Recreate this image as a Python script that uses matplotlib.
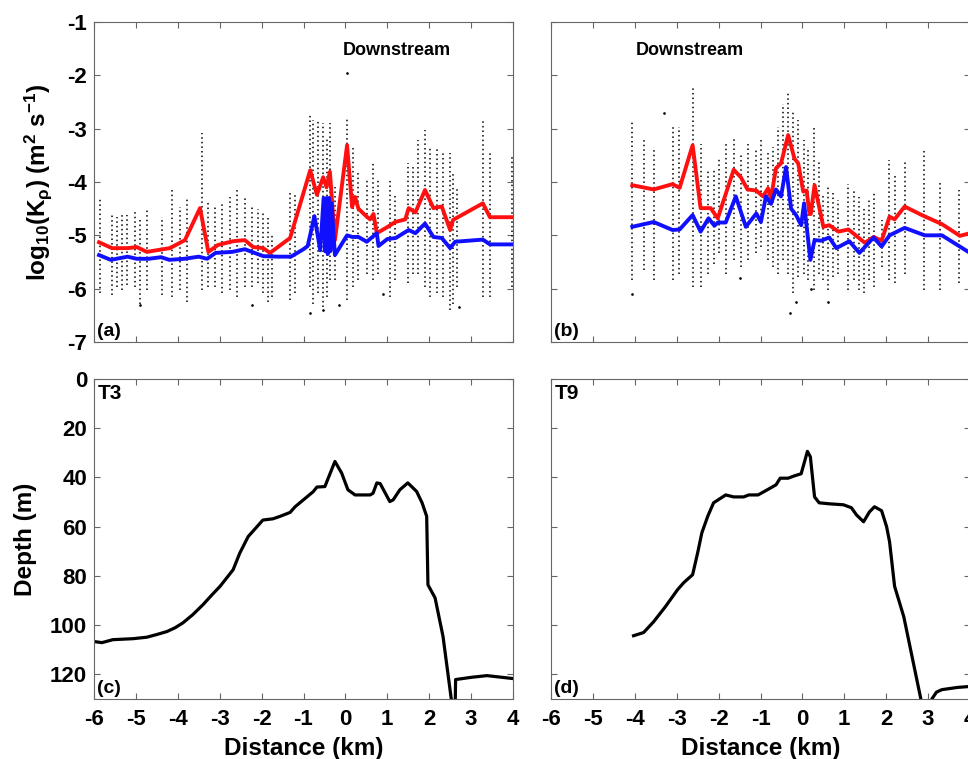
import matplotlib
matplotlib.use('Agg')
import matplotlib.pyplot as plt

plt.rcParams['font.family'] = ['Liberation Sans', 'DejaVu Sans']
plt.rcParams['font.weight'] = 'bold'
plt.rcParams['axes.labelweight'] = 'bold'
plt.rcParams['axes.unicode_minus'] = False
plt.rcParams['mathtext.fontset'] = 'custom'
plt.rcParams['mathtext.rm'] = 'Liberation Sans:bold'
plt.rcParams['mathtext.it'] = 'Liberation Sans:bold'
plt.rcParams['mathtext.bf'] = 'Liberation Sans:bold'

# ---- panel (a): T3 mixing, red = mean, blue = median
a_red_x = [-5.88, -5.57, -5.2, -4.98, -4.74, -4.19, -3.83, -3.47, -3.27, -3.04, -2.68, -2.40, -2.20, -1.96,
           -1.80, -1.32, -0.84, -0.68, -0.53, -0.45, -0.37, -0.25, 0.04, 0.16, 0.23, 0.31, 0.51, 0.59, 0.67,
           0.75, 0.99, 1.19, 1.43, 1.51, 1.67, 1.90, 2.10, 2.30, 2.50, 2.57, 3.28, 3.45, 4.0]
a_red_y = [-5.13, -5.24, -5.24, -5.22, -5.31, -5.24, -5.09, -4.49, -5.31, -5.18, -5.11, -5.09, -5.22, -5.24,
           -5.33, -5.05, -3.78, -4.24, -3.91, -4.1, -3.81, -5.09, -3.31, -4.47, -4.28, -4.5, -4.65, -4.7, -4.6,
           -4.96, -4.85, -4.75, -4.70, -4.49, -4.57, -4.15, -4.49, -4.46, -4.90, -4.71, -4.40, -4.66, -4.66]
a_blue_x = [-5.88, -5.6, -5.2, -4.98, -4.7, -4.4, -4.2, -3.85, -3.5, -3.3, -3.1, -2.7, -2.4, -2.2, -1.96,
            -1.6, -1.3, -1.0, -0.9, -0.74, -0.6, -0.52, -0.48, -0.45, -0.42, -0.39, -0.36, -0.33, -0.25,
            0.04, 0.16, 0.31, 0.51, 0.75, 0.79, 1.0, 1.2, 1.51, 1.67, 1.9, 2.1, 2.3, 2.5, 2.62, 3.28, 3.45, 4.0]
a_blue_y = [-5.37, -5.46, -5.40, -5.44, -5.44, -5.41, -5.46, -5.44, -5.40, -5.44, -5.33, -5.31, -5.26, -5.32,
            -5.39, -5.40, -5.40, -5.26, -5.2, -4.64, -5.28, -4.3, -5.3, -4.3, -5.35, -4.3, -5.3, -4.4, -5.37,
            -5.0, -5.03, -5.03, -5.12, -4.96, -5.2, -5.07, -5.05, -4.9, -4.96, -4.78, -5.03, -5.05, -5.24,
            -5.12, -5.08, -5.17, -5.17]

# profile stations (a): x and vertical extent of the individual estimates
a_sta = [-5.86, -5.57, -5.45, -5.33, -5.21, -5.02, -4.90, -4.74, -4.38, -4.14, -3.95, -3.78, -3.42, -3.27,
         -3.11, -2.94, -2.75, -2.59, -2.40, -2.23, -2.09, -1.97, -1.85, -1.75, -1.32, -1.20, -0.84, -0.77,
         -0.65, -0.53, -0.44, -0.37, -0.25, 0.04, 0.18, 0.30, 0.52, 0.66, 0.78, 1.06, 1.18, 1.49, 1.61,
         1.73, 1.90, 2.02, 2.19, 2.33, 2.50, 2.57, 2.66, 3.28, 3.45, 3.98]
a_hi = [-4.28, -4.59, -4.65, -4.59, -4.62, -4.53, -4.71, -4.53, -4.65, -4.15, -4.46, -4.28, -3.09, -4.40,
        -4.43, -4.40, -4.28, -4.15, -4.28, -4.46, -4.50, -4.59, -4.62, -4.97, -4.21, -4.21, -2.71, -2.84,
        -2.84, -2.90, -3.15, -2.90, -4.09, -2.78, -3.34, -3.84, -3.96, -3.65, -3.96, -3.96, -4.21, -3.65,
        -3.71, -3.21, -3.03, -3.34, -3.34, -3.46, -3.46, -3.84, -4.09, -2.84, -3.46, -3.53]
a_lo = [-6.09, -6.12, -5.97, -6.03, -5.93, -5.97, -6.28, -6.03, -6.12, -6.15, -6.03, -6.25, -6.03, -5.97,
        -5.97, -6.09, -6.03, -6.15, -5.97, -5.97, -5.90, -6.09, -6.25, -6.15, -6.22, -6.09, -5.96, -6.28,
        -6.09, -6.34, -6.15, -5.84, -5.84, -6.22, -5.96, -5.84, -5.72, -5.84, -5.72, -6.15, -5.84, -5.90,
        -5.72, -5.72, -5.96, -6.15, -6.09, -6.15, -6.40, -6.28, -5.96, -6.15, -6.15, -5.96]
a_out_x = [0.04, -0.84, -0.53, -0.15, -2.23, -4.9, 0.9, 2.7]
a_out_y = [-1.96, -6.45, -6.4, -6.3, -6.3, -6.3, -6.1, -6.35]

# ---- panel (b): T9 mixing
b_red_x = [-4.06, -3.55, -3.10, -2.93, -2.62, -2.43, -2.19, -2.02, -1.64, -1.47, -1.31, -1.1, -0.94, -0.82,
           -0.75, -0.63, -0.51, -0.34, -0.19, -0.1, 0.02, 0.1, 0.17, 0.2, 0.29, 0.5, 0.64, 0.86, 1.1, 1.49,
           1.7, 1.89, 2.08, 2.2, 2.44, 2.85, 3.33, 3.76, 4.0]
b_red_y = [-4.06, -4.14, -4.04, -4.11, -3.31, -4.49, -4.49, -4.68, -3.77, -3.91, -4.14, -4.16, -4.27, -4.12,
           -4.3, -3.74, -3.65, -3.12, -3.56, -3.65, -4.18, -4.16, -4.6, -4.6, -4.06, -4.84, -4.81, -4.93,
           -4.89, -5.14, -5.03, -5.1, -4.65, -4.7, -4.46, -4.62, -4.79, -5.01, -4.96]
b_blue_x = [-4.06, -3.55, -3.10, -2.93, -2.62, -2.43, -2.24, -2.1, -2.02, -1.83, -1.59, -1.35, -1.1, -0.99,
            -0.87, -0.75, -0.63, -0.51, -0.39, -0.27, -0.15, -0.03, 0.04, 0.19, 0.29, 0.45, 0.64, 0.81, 1.12,
            1.36, 1.7, 1.89, 2.08, 2.44, 2.92, 3.33, 4.0]
b_blue_y = [-4.84, -4.75, -4.9, -4.89, -4.62, -4.93, -4.68, -4.82, -4.76, -4.76, -4.27, -4.84, -4.59, -4.75,
            -4.27, -4.41, -4.14, -4.27, -3.72, -4.5, -4.62, -4.81, -4.4, -5.46, -5.09, -5.1, -5.04, -5.24,
            -5.11, -5.33, -5.04, -5.21, -5.0, -4.86, -5.0, -5.0, -5.33]

b_sta = [-4.06, -3.79, -3.55, -3.10, -2.95, -2.62, -2.43, -2.26, -2.12, -2.00, -1.83, -1.64, -1.47, -1.30,
         -1.11, -0.99, -0.82, -0.70, -0.58, -0.46, -0.34, -0.22, -0.10, 0.04, 0.14, 0.28, 0.40, 0.50, 0.62,
         0.74, 0.86, 1.10, 1.22, 1.34, 1.46, 1.58, 1.70, 1.89, 2.06, 2.20, 2.44, 2.90, 3.28, 3.74, 3.98]
b_hi = [-2.84, -3.21, -3.34, -2.96, -2.96, -2.24, -3.28, -3.78, -3.78, -3.53, -3.28, -3.15, -3.46, -3.28,
        -3.40, -3.21, -3.46, -3.34, -2.96, -2.53, -2.34, -2.65, -2.84, -3.21, -3.34, -2.96, -3.59, -4.21,
        -4.09, -4.21, -4.34, -4.03, -4.15, -4.28, -4.46, -4.34, -4.21, -4.71, -3.59, -3.84, -3.59, -3.40,
        -3.96, -4.15, -3.96]
b_lo = [-5.84, -5.65, -5.84, -5.84, -5.72, -5.97, -5.97, -5.72, -5.53, -5.34, -5.72, -5.47, -5.59, -5.47,
        -5.34, -5.22, -5.47, -5.59, -5.72, -5.47, -5.72, -6.09, -5.78, -5.72, -5.84, -6.03, -5.72, -5.84,
        -6.03, -5.78, -5.72, -6.03, -5.84, -6.03, -6.09, -5.84, -5.97, -5.59, -5.84, -5.90, -5.72, -6.03,
        -6.03, -5.90, -6.03]
b_out_x = [-4.06, -0.3, -0.15, 0.2, 0.6, -1.5, -3.3]
b_out_y = [-6.1, -6.45, -6.25, -6.0, -6.25, -5.8, -2.7]

# ---- bathymetry along the transects
c_x = [-5.98, -5.81, -5.55, -5.07, -4.74, -4.50, -4.26, -4.07, -3.88, -3.64, -3.40, -3.18, -2.99, -2.68,
       -2.52, -2.32, -2.11, -1.97, -1.73, -1.56, -1.32, -1.20, -1.01, -0.77, -0.68, -0.49, -0.41, -0.25,
       -0.09, 0.06, 0.23, 0.59, 0.66, 0.75, 0.83, 1.06, 1.14, 1.30, 1.49, 1.70, 1.83, 1.94, 1.97, 2.14,
       2.33, 2.55, 2.62, 2.63, 3.0, 3.38, 4.0]
c_depth = [106.7, 107.1, 105.9, 105.5, 104.9, 103.8, 102.6, 101.1, 99.1, 95.7, 91.7, 87.6, 84.2, 77.5,
           70.7, 64.0, 60.0, 57.3, 56.8, 55.8, 54.2, 51.9, 49.2, 45.8, 43.9, 43.7, 40.3, 33.5, 38.2, 45.0,
           47.1, 47.1, 46.4, 42.2, 42.5, 49.8, 49.1, 45.0, 42.2, 45.7, 50.3, 55.8, 83.6, 88.9, 104.6, 133,
           133, 122.1, 121.2, 120.5, 121.7]
d_x = [-4.03, -3.79, -3.55, -3.27, -2.98, -2.83, -2.62, -2.50, -2.40, -2.26, -2.12, -1.83, -1.64, -1.40,
       -1.28, -1.06, -0.92, -0.63, -0.53, -0.34, -0.20, -0.03, 0.12, 0.19, 0.29, 0.40, 0.64, 0.98, 1.17,
       1.29, 1.46, 1.60, 1.72, 1.89, 2.01, 2.08, 2.20, 2.42, 2.90, 3.05, 3.09, 3.2, 3.33, 3.7, 4.0]
d_depth = [104.3, 103.0, 98.6, 92.5, 85.6, 82.7, 79.5, 70.6, 62.5, 55.8, 50.3, 47.1, 47.9, 47.9, 47.1,
           47.1, 45.8, 43.0, 40.3, 40.3, 39.4, 38.5, 29.4, 31.6, 47.9, 50.3, 50.7, 51.1, 52.3, 55.2, 58.0,
           54.0, 51.9, 53.5, 60.0, 66.1, 84.2, 96.6, 136, 136, 130, 127.2, 126.2, 125.3, 124.9]

xticks = [-6, -5, -4, -3, -2, -1, 0, 1, 2, 3, 4]

fig = plt.figure(figsize=(9.68, 7.59), dpi=100)
W, H = 968.0, 759.0
aw, ah = 419 / W, 320 / H
ax_a = fig.add_axes([94 / W, 1 - 342 / H, aw, ah])
ax_b = fig.add_axes([551 / W, 1 - 342 / H, aw, ah])
ax_c = fig.add_axes([94 / W, 1 - 699 / H, aw, ah])
ax_d = fig.add_axes([551 / W, 1 - 699 / H, aw, ah])

for ax in [ax_a, ax_b, ax_c, ax_d]:
    ax.set_xlim(-6, 4)
    ax.set_xticks(xticks)
    ax.tick_params(direction='in', top=True, right=True, length=4, width=0.8, color='0.4',
                   labelsize=16, pad=5)
    ax.tick_params(axis='x', pad=7)
    for s in ax.spines.values():
        s.set_color('0.4')
        s.set_linewidth(0.8)

# top panels
for ax, sta, lo, hi, ox, oy, rx, ry, bx, by in [
        (ax_a, a_sta, a_lo, a_hi, a_out_x, a_out_y, a_red_x, a_red_y, a_blue_x, a_blue_y),
        (ax_b, b_sta, b_lo, b_hi, b_out_x, b_out_y, b_red_x, b_red_y, b_blue_x, b_blue_y)]:
    ax.vlines(sta, lo, hi, colors='k', linestyles=(0, (1, 2)), linewidth=1.1)
    ax.plot(ox, oy, 'k.', ms=1.8)
    ax.plot(rx, ry, color='#ff1010', lw=2.8)
    ax.plot(bx, by, color='#1010ff', lw=2.8)
    ax.set_ylim(-7, -1)
    ax.set_yticks([-7, -6, -5, -4, -3, -2, -1])
    ax.tick_params(labelbottom=False)

ax_a.set_ylabel(r'log$_{10}$(K$_{\rho}$) (m$^{2}$ s$^{-1}$)', fontsize=17.5)
ax_a.yaxis.set_label_coords(-0.095, 0.5)
ax_b.tick_params(labelleft=False)
ax_a.text(1.23, -1.53, 'Downstream', ha='center', va='center', fontsize=13)
ax_b.text(-2.69, -1.53, 'Downstream', ha='center', va='center', fontsize=13)
ax_a.text(0.008, 0.005, '(a)', transform=ax_a.transAxes, ha='left', va='bottom', fontsize=14)
ax_b.text(0.008, 0.005, '(b)', transform=ax_b.transAxes, ha='left', va='bottom', fontsize=14)

# bottom panels
ax_c.plot(c_x, c_depth, color='k', lw=2.3)
ax_d.plot(d_x, d_depth, color='k', lw=2.3)
for ax in [ax_c, ax_d]:
    ax.set_ylim(130, 0)
    ax.set_yticks([0, 20, 40, 60, 80, 100, 120])
    ax.set_xlabel('Distance (km)', fontsize=17.5, labelpad=5)
ax_c.set_ylabel('Depth (m)', fontsize=17.5)
ax_c.yaxis.set_label_coords(-0.135, 0.5)
ax_d.tick_params(labelleft=False)
ax_c.text(0.008, 0.985, 'T3', transform=ax_c.transAxes, ha='left', va='top', fontsize=15)
ax_d.text(0.008, 0.985, 'T9', transform=ax_d.transAxes, ha='left', va='top', fontsize=15)
ax_c.text(0.008, 0.005, '(c)', transform=ax_c.transAxes, ha='left', va='bottom', fontsize=14)
ax_d.text(0.008, 0.005, '(d)', transform=ax_d.transAxes, ha='left', va='bottom', fontsize=14)

fig.savefig('out.png', dpi=100)
